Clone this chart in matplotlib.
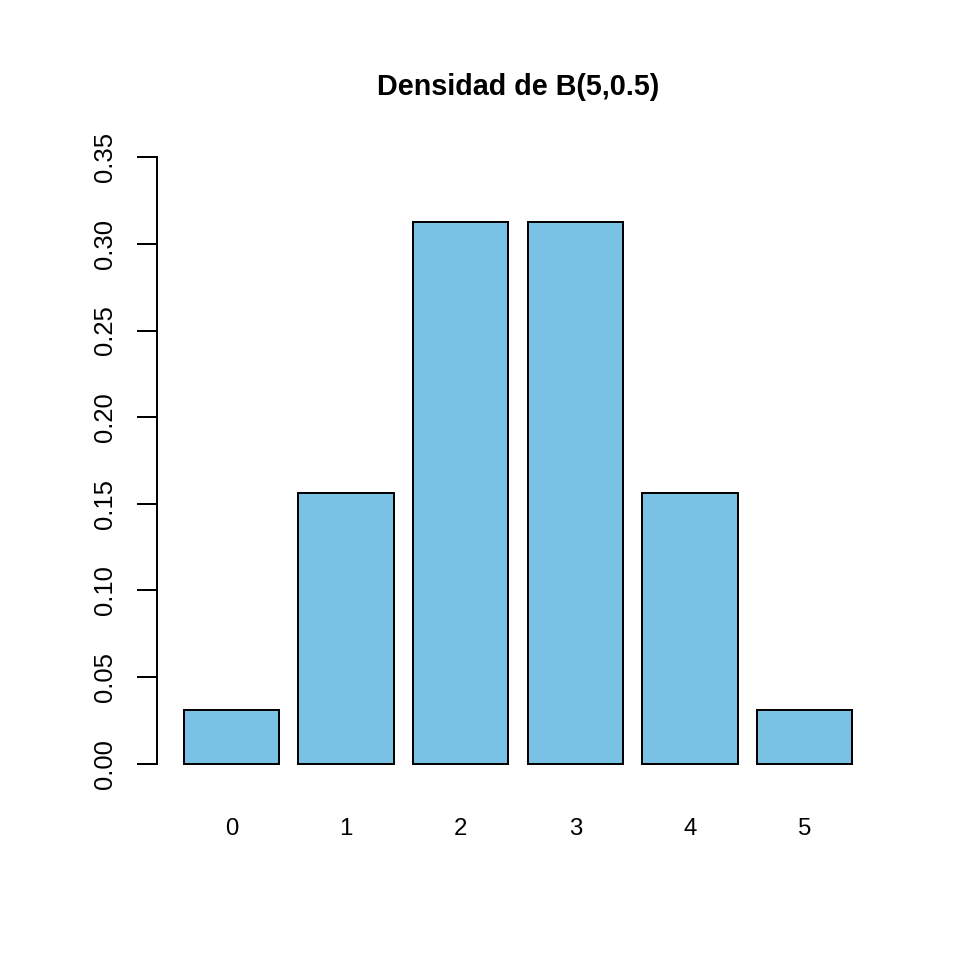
import matplotlib
matplotlib.use("Agg")
import matplotlib.pyplot as plt

# Binomial B(5, 0.5) probabilities
categories = ["0", "1", "2", "3", "4", "5"]
values = [0.03125, 0.15625, 0.3125, 0.3125, 0.15625, 0.03125]
yticks = [0.00, 0.05, 0.10, 0.15, 0.20, 0.25, 0.30, 0.35]

BAR_COLOR = "#79C2E5"

plt.rcParams["font.family"] = ["Liberation Sans", "DejaVu Sans"]

fig = plt.figure(figsize=(960 / 144, 960 / 144), dpi=144)
ax = fig.add_axes([157 / 960, 1 - 788 / 960, (879 - 157) / 960, (788 - 133) / 960])

# R-style barplot positions: width 1, space 0.2
centers = [0.7 + 1.2 * i for i in range(len(values))]
ax.bar(centers, values, width=1.0, color=BAR_COLOR, edgecolor="black", linewidth=1.0)

ax.set_xlim(-0.08, 7.48)
ax.set_ylim(-0.014, 0.364)

for side in ["top", "right", "bottom"]:
    ax.spines[side].set_visible(False)
ax.spines["left"].set_bounds(0, 0.35)
ax.spines["left"].set_linewidth(1.0)

ax.set_yticks(yticks)
ax.set_yticklabels([f"{t:.2f}" for t in yticks], rotation=90, va="center", fontsize=12.8)
ax.tick_params(axis="y", length=10, width=1.0, pad=10)

ax.set_xticks(centers)
ax.set_xticklabels(categories, fontsize=12)
ax.tick_params(axis="x", length=0, pad=15)

ax.set_title("Densidad de B(5,0.5)", fontsize=14.4, fontweight="bold", pad=19)

fig.savefig("out.png", dpi=144)
plt.close(fig)
